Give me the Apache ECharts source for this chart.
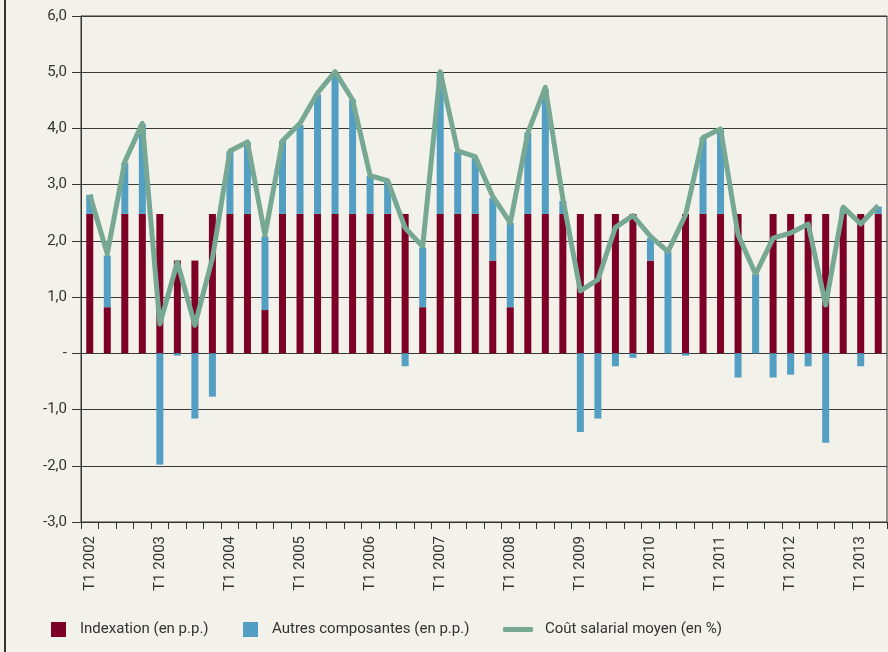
<!DOCTYPE html>
<html>
<head>
<meta charset="utf-8">
<script src="https://cdn.jsdelivr.net/npm/echarts@6/dist/echarts.min.js"></script>
<style>
html,body{margin:0;padding:0;background:#f2f1ea;}
#chart{width:888px;height:652px;}
</style>
</head>
<body>
<div id="chart"></div>
<script>
var years = [2002,2003,2004,2005,2006,2007,2008,2009,2010,2011,2012,2013];
var quarters = ['T1','T2','T3','T4'];
var nQuarters = 46;
var categories = [];
for (var y = 0; y < years.length; y++) {
  for (var q = 0; q < 4; q++) {
    if (categories.length < nQuarters) categories.push(quarters[q] + ' ' + years[y]);
  }
}
var indexation = [2.48,0.82,2.48,2.48, 2.48,1.65,1.65,2.48, 2.48,2.48,0.77,2.48,
  2.48,2.48,2.48,2.48, 2.48,2.48,2.48,0.82, 2.48,2.48,2.48,1.65,
  0.82,2.48,2.48,2.48, 2.48,2.48,2.48,2.48, 1.65,0,2.48,2.48,
  2.48,2.48,0,2.48, 2.48,2.48,2.48,2.48, 2.48,2.48];
var autres = [0.34,0.92,0.91,1.60, -1.98,-0.04,-1.16,-0.77, 1.11,1.28,1.31,1.30,
  1.58,2.13,2.50,2.03, 0.67,0.57,-0.23,1.06, 2.52,1.10,0.99,1.11,
  1.50,1.44,2.22,0.23, -1.40,-1.16,-0.23,-0.08, 0.40,1.81,-0.04,1.36,
  1.50,-0.43,1.41,-0.43, -0.38,-0.23,-1.59,0.10, -0.23,0.13];
var cout = [2.82,1.77,3.41,4.09, 0.52,1.62,0.50,1.69, 3.60,3.76,2.10,3.78,
  4.09,4.63,5.01,4.51, 3.16,3.07,2.23,1.90, 5.01,3.60,3.50,2.79,
  2.32,3.92,4.73,2.75, 1.11,1.31,2.24,2.45, 2.08,1.81,2.46,3.84,
  3.99,2.11,1.41,2.05, 2.14,2.30,0.86,2.60, 2.30,2.63];
var names = ['Indexation (en p.p.)','Autres composantes (en p.p.)','Coût salarial moyen (en %)'];
var colors = ['#7d0026','#539ec3','#76a893'];
var fontFam = 'Roboto, "Noto Sans", sans-serif';

var chart = echarts.init(document.getElementById('chart'));
var legendText = {color:'#333', fontSize:15, fontFamily:fontFam, padding:[0,0,0,9]};
chart.setOption({
  backgroundColor:'#f2f1ea',
  animation:false,
  graphic:[{type:'rect', shape:{x:4, y:0, width:2, height:652}, style:{fill:'#333'}}],
  grid:{left:81, top:16, width:806, height:506, show:true, borderColor:'#333', borderWidth:1, backgroundColor:'transparent'},
  legend:[
    {data:[names[0]], left:51, top:622, padding:0, itemWidth:15, itemHeight:15, itemGap:0, textStyle:legendText, icon:'rect', selectedMode:false},
    {data:[names[1]], left:243, top:622, padding:0, itemWidth:15, itemHeight:15, itemGap:0, textStyle:legendText, icon:'rect', selectedMode:false},
    {data:[names[2]], left:503, top:622, padding:0, itemWidth:30, itemHeight:5, itemGap:0, textStyle:{color:'#333', fontSize:15, fontFamily:fontFam, padding:[0,0,0,7]}, icon:'roundRect', selectedMode:false}
  ],
  xAxis:{
    type:'category', data:categories, position:'bottom',
    axisLine:{onZero:false, lineStyle:{color:'#333', width:1}},
    axisTick:{show:true, interval:0, length:7, alignWithLabel:false, lineStyle:{color:'#333'}},
    axisLabel:{interval:3, rotate:90, margin:14, color:'#333', fontSize:15, fontFamily:fontFam},
    splitLine:{show:false}
  },
  yAxis:{
    type:'value', min:-3, max:6, interval:1,
    axisLine:{show:true, lineStyle:{color:'#333', width:1}},
    axisTick:{show:true, length:9, lineStyle:{color:'#333'}},
    axisLabel:{margin:14, color:'#333', fontSize:15, fontFamily:fontFam,
      formatter:function(v){ return v === 0 ? '-' : v.toFixed(1).replace('.', ','); }},
    splitLine:{show:true, lineStyle:{color:'#3a3a3a', width:1}}
  },
  series:[
    {name:names[0], type:'bar', stack:'s', data:indexation, barWidth:7, itemStyle:{color:colors[0]}},
    {name:names[1], type:'bar', stack:'s', data:autres, barWidth:7, itemStyle:{color:colors[1]}},
    {name:names[2], type:'line', data:cout, symbol:'none', z:5,
      lineStyle:{color:colors[2], width:5, join:'round'}, itemStyle:{color:colors[2]}}
  ]
});
</script>
</body>
</html>
